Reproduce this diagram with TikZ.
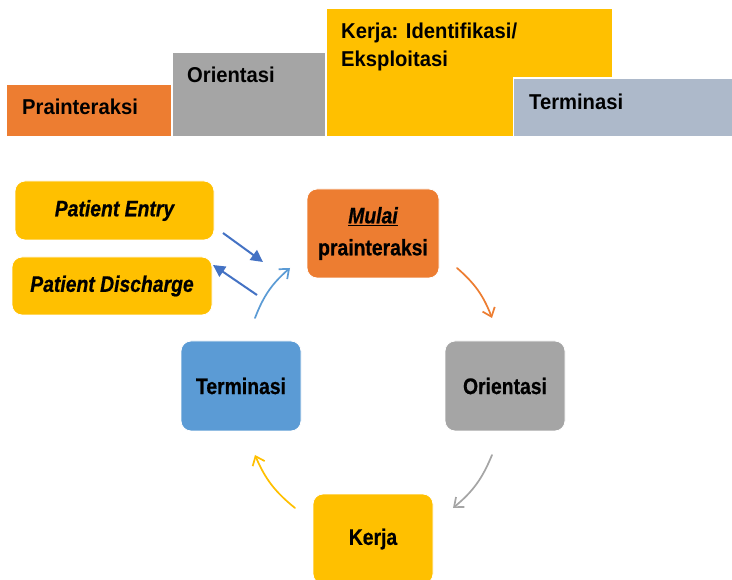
\documentclass[tikz,border=0pt]{standalone}
\usepackage{fontspec}
\setmainfont{Liberation Sans}
\newfontfamily\topfont[FakeStretch=0.94]{Liberation Sans}
\newfontfamily\lowfont[FakeStretch=0.86,FakeBold=0.6]{Liberation Sans}
\usetikzlibrary{arrows.meta}
\definecolor{cOrange}{HTML}{ED7D31}
\definecolor{cGray}{HTML}{A5A5A5}
\definecolor{cGold}{HTML}{FFC000}
\definecolor{cSteel}{HTML}{ADB9CA}
\definecolor{cBlue}{HTML}{5B9BD5}
\definecolor{cDark}{HTML}{4472C4}
\tikzset{
  bar/.style={draw=white, line width=1.2pt, inner sep=0pt, anchor=north west},
  bartext/.style={anchor=base west, inner sep=0pt, font=\topfont\fontsize{21.5}{28}\selectfont\bfseries, align=left},
  card/.style={rounded corners=10pt, inner sep=0pt, draw=white, line width=0.8pt, font=\lowfont\fontsize{22.5}{32}\selectfont\bfseries, align=center, text=black},
  cyc/.style={line width=1.7pt, line cap=round, -{Straight Barb[length=8pt,width=13pt,line width=1.7pt]}},
  link/.style={line width=2pt, draw=cDark, -{Triangle[length=12pt,width=12pt]}}
}
\begin{document}
\begin{tikzpicture}[x=1pt,y=-1pt]
\clip (0,0) rectangle (732,580);
\fill[white] (0,0) rectangle (732,580);
% top bars
\node[bar, fill=cOrange, minimum width=165pt, minimum height=53pt] (b1) at (5.5,83.5) {};
\node[bar, fill=cGray, minimum width=153pt, minimum height=85pt] (b2) at (171.5,51.5) {};
\node[bar, fill=cGold, minimum width=286pt, minimum height=129pt] (b3) at (325.5,7.5) {};
\node[bar, fill=cSteel, minimum width=222pt, minimum height=59pt] (b4) at (512.5,77.5) {};
\node[bartext] (t1) at (22,115) {Prainteraksi};
\node[bartext] (t2) at (187,83) {Orientasi};
\node[bartext, anchor=north west] (t3) at (341,23) {Kerja: Identifikasi/\\Eksploitasi};
\node[bartext] (t4) at (529,110) {Terminasi};
% cards
\node[card, fill=cGold, minimum width=199pt, minimum height=59pt] (pe) at (114.5,210.5) {\itshape Patient Entry};
\node[card, fill=cGold, minimum width=200pt, minimum height=58pt] (pd) at (112,286) {\itshape Patient Discharge};
\node[card, fill=cOrange, minimum width=132pt, minimum height=89pt] (mu) at (373,233.5) {\underline{\itshape Mulai}\\prainteraksi};
\node[card, fill=cGray, minimum width=120pt, minimum height=90pt] (or) at (505,386) {Orientasi};
\node[card, fill=cBlue, minimum width=120pt, minimum height=90pt] (te) at (241,386) {Terminasi};
\node[card, fill=cGold, minimum width=120pt, minimum height=90pt] (ke) at (373,539) {Kerja};
% arrow end points
\coordinate (o1) at (457,268); \coordinate (o2) at (492,318);
\coordinate (g1) at (492,455); \coordinate (g2) at (453,508);
\coordinate (y1) at (295,508); \coordinate (y2) at (255,455);
\coordinate (l1) at (255,318); \coordinate (l2) at (290,268);
\coordinate (e1) at (223,233); \coordinate (e2) at (263,262);
\coordinate (d1) at (257,295); \coordinate (d2) at (213,265);
\draw[cyc, cOrange] (o1) to[bend left=14] (o2);
\draw[cyc, cGray] (g1) to[bend left=14] (g2);
\draw[cyc, cGold] (y1) to[bend left=14] (y2);
\draw[cyc, cBlue] (l1) to[bend left=14] (l2);
\draw[link] (e1) -- (e2);
\draw[link] (d1) -- (d2);
\end{tikzpicture}
\end{document}
